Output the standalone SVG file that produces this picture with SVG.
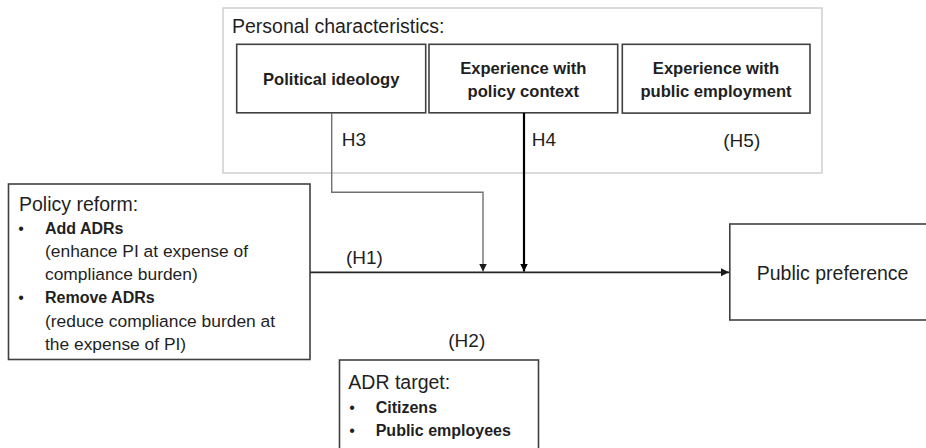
<svg xmlns="http://www.w3.org/2000/svg" width="926" height="448" viewBox="0 0 926 448">
  <style>
    text { font-family: "Liberation Sans", Arial, sans-serif; fill: #1f1f1f; }
    .head { font-size: 19.5px; }
    .sub { font-size: 17.4px; }
    .lab { font-size: 19px; }
    .bbox { font-size: 16.6px; font-weight: bold; }
    .bul { font-size: 16px; font-weight: bold; }
    .dot { font-size: 16px; }
    .box { fill: #ffffff; stroke: #404040; stroke-width: 1.6; }
    .outer { fill: #ffffff; stroke: #c4c4c4; stroke-width: 1.2; }
  </style>
  <defs>
    <marker id="arrowDark" markerUnits="userSpaceOnUse" markerWidth="9" markerHeight="9" refX="8" refY="4" orient="auto">
      <path d="M0,0 L8,4 L0,8 Z" fill="#1a1a1a"/>
    </marker>
    <marker id="arrowBlack" markerUnits="userSpaceOnUse" markerWidth="9" markerHeight="9" refX="8" refY="4" orient="auto">
      <path d="M0,0 L8,4 L0,8 Z" fill="#000000"/>
    </marker>
  </defs>

  <rect width="926" height="448" fill="#ffffff"/>

  <g id="personal-characteristics">
    <rect class="outer" x="223" y="8" width="599" height="165"/>
    <text class="head" x="232" y="33">Personal characteristics:</text>
  </g>

  <g id="political-ideology">
    <rect class="box" x="236.7" y="44.3" width="189" height="68.5"/>
    <text class="bbox" x="331.2" y="85" text-anchor="middle">Political ideology</text>
  </g>

  <g id="experience-policy">
    <rect class="box" x="429" y="44.3" width="188.7" height="68.5"/>
    <text class="bbox" x="523.3" y="74" text-anchor="middle">Experience with</text>
    <text class="bbox" x="523.3" y="96.5" text-anchor="middle">policy context</text>
  </g>

  <g id="experience-employment">
    <rect class="box" x="622.3" y="44.3" width="187.7" height="68.8"/>
    <text class="bbox" x="716" y="74" text-anchor="middle">Experience with</text>
    <text class="bbox" x="716" y="96.5" text-anchor="middle">public employment</text>
  </g>

  <g id="policy-reform">
    <rect class="box" x="8.5" y="184" width="301.5" height="175.5"/>
    <text class="head" x="19" y="210.5">Policy reform:</text>
    <text class="dot" x="21" y="233.6" text-anchor="middle">•</text>
    <text class="bul" x="45" y="233.6">Add ADRs</text>
    <text class="sub" x="45" y="256.8">(enhance PI at expense of</text>
    <text class="sub" x="45" y="280">compliance burden)</text>
    <text class="dot" x="21" y="303.2" text-anchor="middle">•</text>
    <text class="bul" x="45" y="303.2">Remove ADRs</text>
    <text class="sub" x="45" y="326.6">(reduce compliance burden at</text>
    <text class="sub" x="45" y="349.6">the expense of PI)</text>
  </g>

  <g id="public-preference">
    <rect class="box" x="729.8" y="224" width="230" height="96"/>
    <text class="head" x="756.7" y="279.5">Public preference</text>
  </g>

  <g id="adr-target">
    <rect class="box" x="339.5" y="360" width="199" height="110"/>
    <text class="head" x="348.3" y="389.3">ADR target:</text>
    <text class="dot" x="352" y="413" text-anchor="middle">•</text>
    <text class="bul" x="375.7" y="413">Citizens</text>
    <text class="dot" x="352" y="436" text-anchor="middle">•</text>
    <text class="bul" x="375.7" y="436">Public employees</text>
  </g>

  <g id="connectors" fill="none">
    <line x1="310" y1="272.3" x2="729" y2="272.3" stroke="#262626" stroke-width="1.8" marker-end="url(#arrowDark)"/>
    <polyline points="331.7,113 331.7,192.3 483,192.3 483,271.5" stroke="#707070" stroke-width="1.4" marker-end="url(#arrowDark)"/>
    <line x1="524" y1="113" x2="524" y2="271.5" stroke="#000000" stroke-width="2.2" marker-end="url(#arrowBlack)"/>
  </g>

  <g id="labels">
    <text class="lab" x="341.7" y="145.7">H3</text>
    <text class="lab" x="531.7" y="145.7">H4</text>
    <text class="lab" x="723.3" y="146.5">(H5)</text>
    <text class="lab" x="346" y="263.5">(H1)</text>
    <text class="lab" x="448.3" y="346.5">(H2)</text>
  </g>
</svg>
